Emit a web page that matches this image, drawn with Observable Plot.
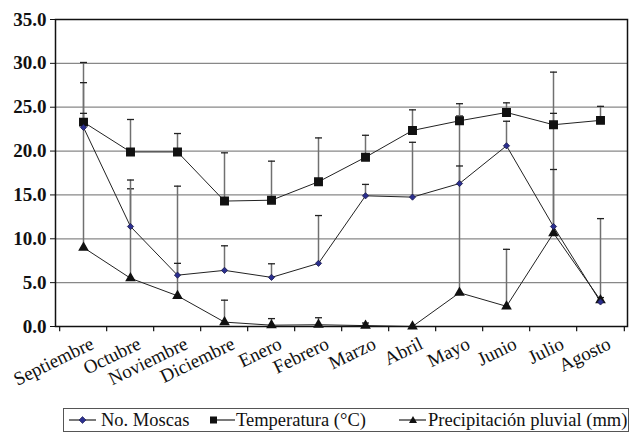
<!DOCTYPE html>
<html><head><meta charset="utf-8">
<script src="https://cdn.jsdelivr.net/npm/d3@7"></script>
<script src="https://cdn.jsdelivr.net/npm/@observablehq/plot@0.6"></script>
<style>
body{margin:0;background:#fff;font-family:"Liberation Serif","DejaVu Serif","Times New Roman",serif;}
#wrap{position:relative;width:631px;height:432px;overflow:hidden;}
#legend{position:absolute;left:63px;top:408px;width:566px;height:24px;border:1.5px solid #555;box-sizing:border-box;font-size:18.5px;color:#111;white-space:nowrap;}
#legend .it{position:absolute;top:0px;height:22px;line-height:22px;}
#legend svg{position:absolute;top:0;}
svg text{font-family:"Liberation Serif","DejaVu Serif","Times New Roman",serif;}
</style></head>
<body><div id="wrap"><div id="chart"></div><div id="legend"></div></div>
<script>
const months = ["Septiembre","Octubre","Noviembre","Diciembre","Enero","Febrero","Marzo","Abril","Mayo","Junio","Julio","Agosto"];
const moscas      = [22.7, 11.4, 5.85, 6.4, 5.6, 7.2, 14.9, 14.75, 16.3, 20.6, 11.4, 2.8];
const moscasUpper = [27.8, 16.7, 7.2, 9.2, 7.15, 12.65, 16.2, 21.0, 18.3, 23.4, 17.9, 3.3];
const temperatura = [23.3, 19.9, 19.9, 14.3, 14.4, 16.5, 19.3, 22.35, 23.45, 24.4, 23.0, 23.5];
const tempUpper   = [24.3, 23.6, 22.0, 19.8, 18.85, 21.5, 21.8, 24.7, 25.4, 25.5, 24.3, 25.1];
const precipitacion = [9.0, 5.5, 3.5, 0.5, 0.15, 0.2, 0.1, 0.0, 3.85, 2.3, 10.65, 3.0];
const precipUpper   = [30.1, 15.7, 16.0, 3.0, 0.9, 1.0, 0.4, null, 24.0, 8.8, 29.0, 12.3];
const yTicks = [0, 5, 10, 15, 20, 25, 30, 35];
const seriesNames = ["No. Moscas", "Temperatura (°C)", "Precipitación pluvial (mm)"];

const rows = months.map((m, i) => ({
  month: m,
  moscas: moscas[i], moscasUp: moscasUpper[i],
  temp: temperatura[i], tempUp: tempUpper[i],
  precip: precipitacion[i], precipUp: precipUpper[i]
}));

const cap = {draw(ctx, size) { ctx.moveTo(-3.5, 0); ctx.lineTo(3.5, 0); }};
const half = (627 - 55) / 12 / 2;

function bars(val, up) {
  const d = rows.filter(r => r[up] != null && r[up] > r[val]);
  return [
    Plot.ruleX(d, {x: "month", y1: val, y2: up, stroke: "#707070", strokeWidth: 1.5}),
    Plot.dot(d, {x: "month", y: up, symbol: cap, r: 2, stroke: "#222", strokeWidth: 1.3, fill: "none"})
  ];
}

const FF = "'Liberation Serif', 'DejaVu Serif', 'Times New Roman', serif";
const chart = Plot.plot({
  width: 631, height: 405,
  marginLeft: 55, marginRight: 4, marginTop: 19, marginBottom: 79,
  style: {fontFamily: FF, background: "#fff", color: "#111"},
  x: {type: "point", domain: months, padding: 0.5, label: null},
  y: {domain: [0, 35], label: null},
  marks: [
    Plot.ruleY(yTicks.filter(t => t > 0 && t < 35), {stroke: "#888", strokeWidth: 1.3}),
    ...bars("precip", "precipUp"),
    ...bars("moscas", "moscasUp"),
    ...bars("temp", "tempUp"),
    Plot.line(rows, {x: "month", y: "precip", stroke: "#222", strokeWidth: 1}),
    Plot.line(rows, {x: "month", y: "moscas", stroke: "#222", strokeWidth: 1}),
    Plot.line(rows, {x: "month", y: "temp", stroke: "#222", strokeWidth: 1}),
    Plot.dot(rows, {x: "month", y: "precip", symbol: "triangle", r: 3, fill: "#111", stroke: "#111"}),
    Plot.dot(rows, {x: "month", y: "temp", symbol: "square", r: 4.2, fill: "#111", stroke: "#111"}),
    Plot.dot(rows, {x: "month", y: "moscas", symbol: "diamond2", r: 2.8, fill: "#2b2f8f", stroke: "#1a1a4a", strokeWidth: 0.8}),
    Plot.ruleX(months, {x: d => d, y1: 0, y2: -0.6, dx: -half, stroke: "#111", strokeWidth: 1.2}),
    Plot.ruleX(months.slice(-1), {x: d => d, y1: 0, y2: -0.6, dx: half, stroke: "#111", strokeWidth: 1.2}),
    Plot.axisY({ticks: yTicks, tickFormat: d => d.toFixed(1), tickSize: 5, tickPadding: 4, fontSize: 19, fontWeight: "bold", fontFamily: FF, stroke: "#111"}),
    Plot.axisX({tickSize: 0, tickRotate: -26, fontSize: 19, fontFamily: FF, tickPadding: 16, dx: 9}),
    Plot.frame({stroke: "#111", strokeWidth: 1.5})
  ]
});
document.getElementById("chart").appendChild(chart);

// legend
const lg = document.getElementById("legend");
const items = [
  {x0: 4, marker: "diamond", tx: 37},
  {x0: 146, marker: "square", tx: 172},
  {x0: 334, marker: "triangle", tx: 364}
];
items.forEach((it, i) => {
  const svg = `<svg width="32" height="22" style="left:${it.x0}px">` +
    (it.marker === "square"
      ? `<line x1="4" y1="11" x2="25" y2="11" stroke="#222" stroke-width="1.2"/><rect x="0" y="7.5" width="7" height="7" fill="#111"/>`
      : `<line x1="1" y1="11" x2="28" y2="11" stroke="#222" stroke-width="1.2"/>` +
        (it.marker === "diamond"
          ? `<path d="M14.5,7.5 L18,11 L14.5,14.5 L11,11Z" fill="#2b2f8f" stroke="#1a1a4a" stroke-width="0.6"/>`
          : `<path d="M15,7 L19,14 L11,14Z" fill="#111"/>`)) +
    `</svg>`;
  lg.insertAdjacentHTML("beforeend", svg + `<span class="it" style="left:${it.tx}px">${seriesNames[i]}</span>`);
});
</script>
</body></html>
